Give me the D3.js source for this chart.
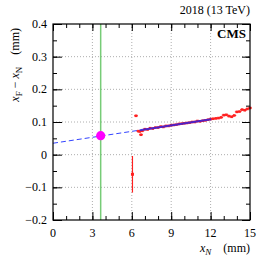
<!DOCTYPE html>
<html>
<head>
<meta charset="utf-8">
<script src="https://cdn.jsdelivr.net/npm/d3@7"></script>
<style>
  body { margin: 0; background: #fff; }
  text { font-family: "Liberation Serif", "DejaVu Serif", serif; fill: #000; }
</style>
</head>
<body>
<div id="chart"></div>
<script>
// ---- data ----
var xTicks = [0, 3, 6, 9, 12, 15];
var yTicks = [-0.2, -0.1, 0, 0.1, 0.2, 0.3, 0.4];

// red points (x, y) along the strip
var redX = [6.32, 6.5, 6.7, 6.6, 6.8, 7.0, 7.2, 7.4, 7.6, 7.8, 8.0, 8.2, 8.4, 8.6, 8.8, 9.0,
            9.2, 9.4, 9.6, 9.8, 10.0, 10.2, 10.4, 10.6, 10.8, 11.0, 11.2, 11.4, 11.6, 11.8, 12.0,
            12.2, 12.4, 12.6, 12.8, 13.0, 13.2, 13.4, 13.6, 13.8, 14.0, 14.2, 14.4, 14.6, 14.8, 15.0];
var redY = [0.119, 0.072, 0.061, 0.071, 0.073, 0.078, 0.077, 0.081, 0.080, 0.083, 0.083, 0.086, 0.085, 0.088, 0.088, 0.090,
            0.091, 0.092, 0.094, 0.095, 0.096, 0.097, 0.098, 0.100, 0.100, 0.103, 0.102, 0.104, 0.105, 0.107, 0.109,
            0.110, 0.111, 0.112, 0.114, 0.121, 0.122, 0.118, 0.116, 0.120, 0.131, 0.132, 0.138, 0.136, 0.140, 0.143];

// the low red point at x ~ 6 with its big error bar
var lowX = [6.05];
var lowY = [-0.06];
var lowErr = [0.056];

// blue fit line: dashed extrapolation + solid fitted part
var fitDashX = [0, 6.6];
var fitDashY = [0.035, 0.075];
var fitSolidX = [6.6, 12.05];
var fitSolidY = [0.075, 0.1085];

// green vertical line and magenta point
var greenX = 3.63;
var dotX = [3.63];
var dotY = [0.058];

// ---- layout ----
var W = 262, H = 261;
var margin = {left: 53, right: 12, top: 24, bottom: 41};

var svg = d3.select("#chart").append("svg")
    .attr("width", W).attr("height", H);

var x = d3.scaleLinear().domain([0, 15]).range([margin.left, W - margin.right]);
var y = d3.scaleLinear().domain([-0.2, 0.4]).range([H - margin.bottom, margin.top]);

var x0 = x(0), x1 = x(15), y0 = y(-0.2), y1 = y(0.4);

// grid (dotted)
var grid = svg.append("g");
grid.selectAll("line.gx").data([3, 6, 9, 12]).enter().append("line")
    .attr("x1", function (d) { return x(d); }).attr("x2", function (d) { return x(d); })
    .attr("y1", y0).attr("y2", y1)
    .attr("stroke", "#999").attr("stroke-width", 0.8).attr("stroke-dasharray", "1,2");
grid.selectAll("line.gy").data([-0.1, 0, 0.1, 0.2, 0.3]).enter().append("line")
    .attr("y1", function (d) { return y(d); }).attr("y2", function (d) { return y(d); })
    .attr("x1", x0).attr("x2", x1)
    .attr("stroke", "#999").attr("stroke-width", 0.8).attr("stroke-dasharray", "1,2");

// axes with inside ticks
var xMinor = d3.range(0, 16, 1);
var yMinor = d3.range(-0.2, 0.401, 0.05);

function tickAxis(axisFn, scale, vals, size, tf) {
    return svg.append("g").attr("transform", tf)
        .call(axisFn(scale).tickValues(vals).tickSize(size).tickFormat(""))
        .call(function (g) { g.select(".domain").remove(); });
}
tickAxis(d3.axisTop, x, xMinor, 4, "translate(0," + y0 + ")");
tickAxis(d3.axisTop, x, xTicks, 8, "translate(0," + y0 + ")");
tickAxis(d3.axisBottom, x, xMinor, 4, "translate(0," + y1 + ")");
tickAxis(d3.axisBottom, x, xTicks, 7, "translate(0," + y1 + ")");
tickAxis(d3.axisRight, y, yMinor, 4, "translate(" + x0 + ",0)");
tickAxis(d3.axisRight, y, yTicks, 9, "translate(" + x0 + ",0)");
tickAxis(d3.axisLeft, y, yMinor, 4, "translate(" + x1 + ",0)");
tickAxis(d3.axisLeft, y, yTicks, 8, "translate(" + x1 + ",0)");
svg.selectAll(".tick line").attr("stroke", "#000").attr("stroke-width", 1);

// tick labels
svg.append("g").selectAll("text").data(xTicks).enter().append("text")
    .attr("x", function (d) { return x(d); }).attr("y", y0 + 17)
    .attr("text-anchor", "middle").attr("font-size", 12)
    .text(function (d) { return d; });
svg.append("g").selectAll("text").data(yTicks).enter().append("text")
    .attr("x", x0 - 6).attr("y", function (d) { return y(d) + 4; })
    .attr("text-anchor", "end").attr("font-size", 12)
    .text(function (d) { return d3.format(".1f")(d).replace("-", "\u2212").replace(/^0\.0$/, "0"); });

// green line
svg.append("line")
    .attr("x1", x(greenX)).attr("x2", x(greenX)).attr("y1", y0).attr("y2", y1)
    .attr("stroke", "#77cc77").attr("stroke-width", 1.5);

// blue fit
var line = d3.line().x(function (d) { return x(d[0]); }).y(function (d) { return y(d[1]); });
svg.append("path").attr("d", line(d3.zip(fitDashX, fitDashY)))
    .attr("fill", "none").attr("stroke", "#3344ff").attr("stroke-width", 1)
    .attr("stroke-dasharray", "5,3");

// red points
var red = svg.append("g");
var redPts = d3.zip(redX, redY);
red.selectAll("line").data(redPts).enter().append("line")
    .attr("x1", function (d) { return x(d[0]) - 2; }).attr("x2", function (d) { return x(d[0]) + 2; })
    .attr("y1", function (d) { return y(d[1]); }).attr("y2", function (d) { return y(d[1]); })
    .attr("stroke", "#ff2020").attr("stroke-width", 1);
red.selectAll("rect").data(redPts).enter().append("rect")
    .attr("x", function (d) { return x(d[0]) - 1.3; }).attr("y", function (d) { return y(d[1]) - 1.3; })
    .attr("width", 2.6).attr("height", 2.6).attr("fill", "#ff2020");

// solid blue part on top of the red strip
svg.append("path").attr("d", line(d3.zip(fitSolidX, fitSolidY)))
    .attr("fill", "none").attr("stroke", "#2222ee").attr("stroke-width", 2).attr("opacity", 0.8);

// low red point with error bar
var low = svg.append("g");
var lowPts = d3.zip(lowX, lowY, lowErr);
low.selectAll("line").data(lowPts).enter().append("line")
    .attr("x1", function (d) { return x(d[0]); }).attr("x2", function (d) { return x(d[0]); })
    .attr("y1", function (d) { return y(d[1] + d[2]); }).attr("y2", function (d) { return y(d[1] - d[2]); })
    .attr("stroke", "#ff2020").attr("stroke-width", 1.2);
low.selectAll("rect").data(lowPts).enter().append("rect")
    .attr("x", function (d) { return x(d[0]) - 1.5; }).attr("y", function (d) { return y(d[1]) - 1.5; })
    .attr("width", 3).attr("height", 3).attr("fill", "#ff2020");

// magenta dot
svg.selectAll("circle.dot").data(d3.zip(dotX, dotY)).enter().append("circle")
    .attr("cx", function (d) { return x(d[0]); }).attr("cy", function (d) { return y(d[1]); })
    .attr("r", 4.6).attr("fill", "#ff00ff");

// frame
svg.append("rect").attr("x", x0).attr("y", y1).attr("width", x1 - x0).attr("height", y0 - y1)
    .attr("fill", "none").attr("stroke", "#000").attr("stroke-width", 1.2);

// texts
svg.append("text").attr("x", x1).attr("y", 14).attr("text-anchor", "end")
    .attr("font-size", 12).text("2018 (13 TeV)");
svg.append("text").attr("x", x1 - 4).attr("y", 38).attr("text-anchor", "end")
    .attr("font-size", 13).attr("font-weight", "bold").text("CMS");

var xl = svg.append("text").attr("x", x1).attr("y", 252).attr("text-anchor", "end").attr("font-size", 12);
xl.append("tspan").attr("font-style", "italic").text("x");
xl.append("tspan").attr("font-style", "italic").attr("font-size", 9).attr("dy", 3).text("N");
xl.append("tspan").attr("dy", -3).text("\u2003(mm)");

var yl = svg.append("text").attr("transform", "translate(19,28) rotate(-90)")
    .attr("text-anchor", "end").attr("font-size", 12);
yl.append("tspan").attr("font-style", "italic").text("x");
yl.append("tspan").attr("font-size", 9).attr("dy", 3).text("F");
yl.append("tspan").attr("dy", -3).text(" \u2212 ");
yl.append("tspan").attr("font-style", "italic").text("x");
yl.append("tspan").attr("font-size", 9).attr("dy", 3).text("N");
yl.append("tspan").attr("dy", -3).text("\u2003(mm)");
</script>
</body>
</html>
